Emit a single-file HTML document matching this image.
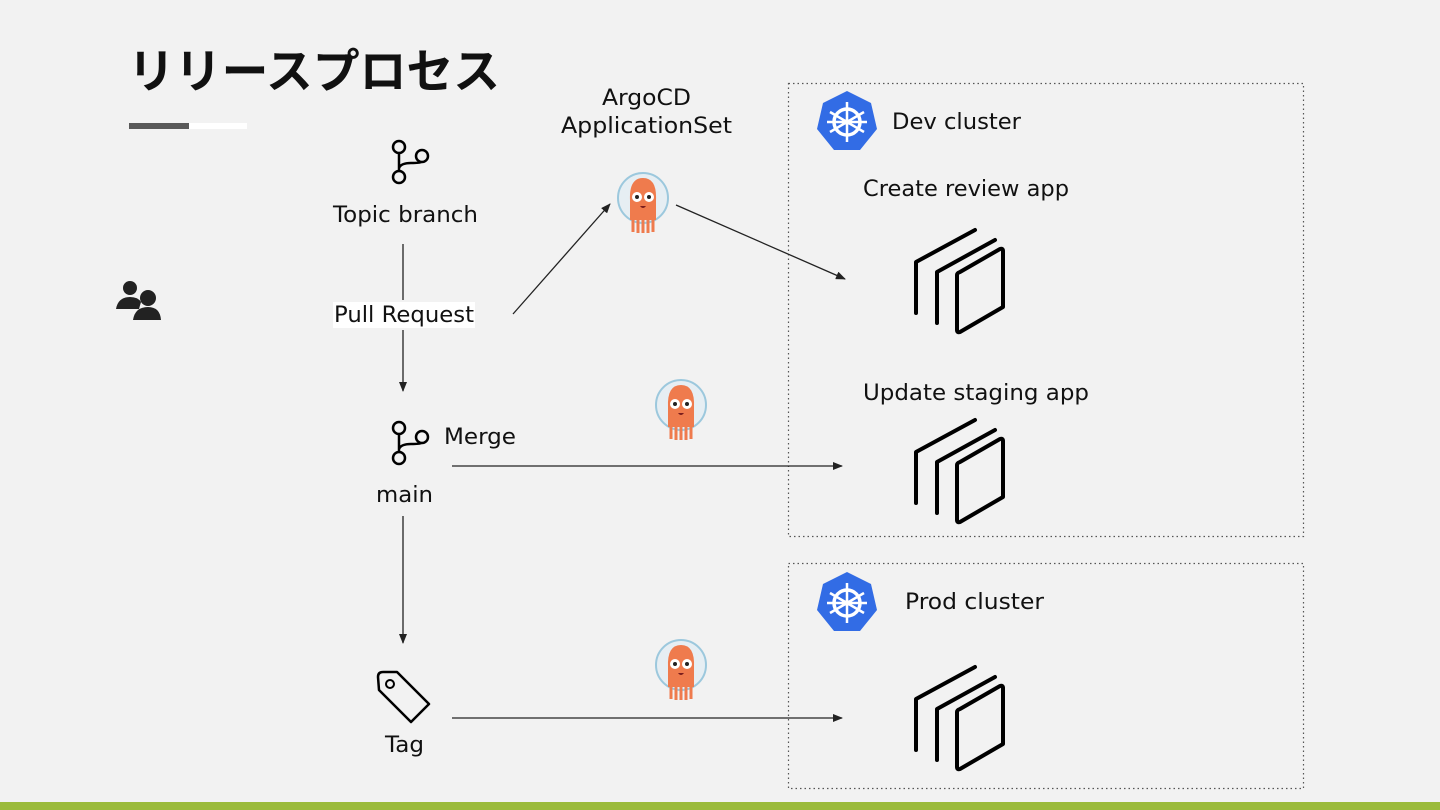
<!DOCTYPE html>
<html><head><meta charset="utf-8"><style>
html,body{margin:0;padding:0;background:#f2f2f2;}
svg{display:block}
text{font-family:"DejaVu Sans","Liberation Sans",sans-serif;fill:#111;}
</style></head><body>
<svg width="1440" height="810" viewBox="0 0 1440 810" xmlns="http://www.w3.org/2000/svg">
<defs>
<marker id="ar" markerWidth="10" markerHeight="8" refX="9" refY="4" orient="auto" markerUnits="userSpaceOnUse"><path d="M0,0 L10,4 L0,8 z" fill="#222"/></marker>
<g id="argo">
<circle cx="0" cy="0" r="25" fill="#e6eef3" stroke="#9cc8dd" stroke-width="2"/>
<path d="M-13,2 Q-14,-20 0,-20 Q14,-20 13,2 L13,22 L-13,22 Z" fill="#ef7b4d"/>
<path d="M-10,22 l0,12 M-5,22 l0,13 M0,22 l0,13 M5,22 l0,13 M10,22 l0,12" stroke="#ef7b4d" stroke-width="3"/>
<circle cx="-6" cy="-1" r="5" fill="#fff"/><circle cx="6" cy="-1" r="5" fill="#fff"/>
<circle cx="-6" cy="-1" r="2" fill="#222"/><circle cx="6" cy="-1" r="2" fill="#222"/>
<path d="M-3,8 Q0,12 3,8" fill="#7a1d1d"/>
</g>
<g id="stack" fill="none" stroke="#000" stroke-width="4" stroke-linejoin="round" stroke-linecap="round">
<path d="M975,230 L916,262 L916,313"/>
<path d="M995,240 L937,272 L937,323"/>
<path d="M960,272 L1000,249 Q1003,248 1003,251 L1003,307 L960,332 Q957,333 957,330 L957,275 Q957,273 960,272 Z"/>
</g>
<g id="k8s">
<polygon points="0,-31 24,-19 30,7 13,28 -13,28 -30,7 -24,-19" fill="#326ce5"/>
<circle cx="0" cy="0" r="13" fill="none" stroke="#fff" stroke-width="3.5"/>
<circle cx="0" cy="0" r="3" fill="#fff"/>
<g stroke="#fff" stroke-width="2.5">
<path d="M0,-20 L0,20 M-17,-10 L17,10 M-17,10 L17,-10 M-20,0 L20,0"/>
</g>
</g>
<g id="branch" fill="none" stroke="#000" stroke-width="2.5">
<circle cx="0" cy="-30" r="6"/><circle cx="23" cy="-21" r="6"/><circle cx="0" cy="0" r="6"/>
<path d="M0,-24 L0,-6 M0,-9 Q2,-14 12,-14 Q21,-14 22,-15"/>
</g>
</defs>

<text x="128" y="88" font-weight="bold" font-size="47" fill="#222" textLength="372" lengthAdjust="spacingAndGlyphs" style="font-family:'Noto Sans CJK JP',sans-serif">リリースプロセス</text>
<rect x="129" y="123" width="60" height="6" fill="#595959"/>
<rect x="189" y="123" width="58" height="6" fill="#fff"/>

<circle cx="130" cy="288" r="7" fill="#222"/>
<path d="M116,309 Q118,297 130,297 Q138,297 141,302 L139,309 Z" fill="#222"/>
<circle cx="148" cy="298" r="8" fill="#222"/>
<path d="M133,320 Q135,307 148,307 Q160,307 161,320 Z" fill="#222"/>

<rect x="788.5" y="83.5" width="515" height="453" fill="none" stroke="#555" stroke-width="1.2" stroke-dasharray="1.5,3"/>
<rect x="788.5" y="563.5" width="515" height="225" fill="none" stroke="#555" stroke-width="1.2" stroke-dasharray="1.5,3"/>

<use href="#branch" x="399" y="177"/>
<text x="333" y="222" font-size="22" textLength="145" lengthAdjust="spacingAndGlyphs">Topic branch</text>
<line x1="403" y1="244" x2="403" y2="300" stroke="#222" stroke-width="1.3"/>
<rect x="333" y="302" width="142" height="26" fill="#fff"/>
<text x="334" y="322" font-size="22" textLength="140" lengthAdjust="spacingAndGlyphs">Pull Request</text>
<line x1="403" y1="330" x2="403" y2="391" stroke="#222" stroke-width="1.3" marker-end="url(#ar)"/>
<use href="#branch" x="399" y="458"/>
<text x="444" y="444" font-size="22" textLength="72" lengthAdjust="spacingAndGlyphs">Merge</text>
<text x="376" y="502" font-size="22" textLength="57" lengthAdjust="spacingAndGlyphs">main</text>
<line x1="403" y1="516" x2="403" y2="643" stroke="#222" stroke-width="1.3" marker-end="url(#ar)"/>

<path d="M378,677 Q378,672 383,672 L397,672 L429,704 L411,722 L379,690 Z" fill="none" stroke="#000" stroke-width="2.5" stroke-linejoin="round"/>
<circle cx="390" cy="684" r="4" fill="none" stroke="#000" stroke-width="2"/>
<text x="385" y="752" font-size="22" textLength="39" lengthAdjust="spacingAndGlyphs">Tag</text>

<text x="602" y="105" font-size="22" textLength="89" lengthAdjust="spacingAndGlyphs">ArgoCD</text>
<text x="561" y="133" font-size="22" textLength="171" lengthAdjust="spacingAndGlyphs">ApplicationSet</text>
<use href="#argo" x="643" y="198"/>
<use href="#argo" x="681" y="405"/>
<use href="#argo" x="681" y="665"/>

<line x1="513" y1="314" x2="610" y2="204" stroke="#222" stroke-width="1.3" marker-end="url(#ar)"/>
<line x1="676" y1="205" x2="845" y2="279" stroke="#222" stroke-width="1.3" marker-end="url(#ar)"/>
<line x1="452" y1="466" x2="842" y2="466" stroke="#222" stroke-width="1.3" marker-end="url(#ar)"/>
<line x1="452" y1="718" x2="842" y2="718" stroke="#222" stroke-width="1.3" marker-end="url(#ar)"/>

<use href="#k8s" x="847" y="122"/>
<text x="892" y="129" font-size="22" textLength="129" lengthAdjust="spacingAndGlyphs">Dev cluster</text>
<text x="863" y="196" font-size="22" textLength="206" lengthAdjust="spacingAndGlyphs">Create review app</text>
<use href="#stack"/>
<text x="863" y="400" font-size="22" textLength="226" lengthAdjust="spacingAndGlyphs">Update staging app</text>
<use href="#stack" y="190"/>
<use href="#k8s" x="847" y="603"/>
<text x="905" y="609" font-size="22" textLength="139" lengthAdjust="spacingAndGlyphs">Prod cluster</text>
<use href="#stack" y="437"/>

<rect x="0" y="802" width="1440" height="8" fill="#9bbb3b"/>
</svg>
</body></html>
